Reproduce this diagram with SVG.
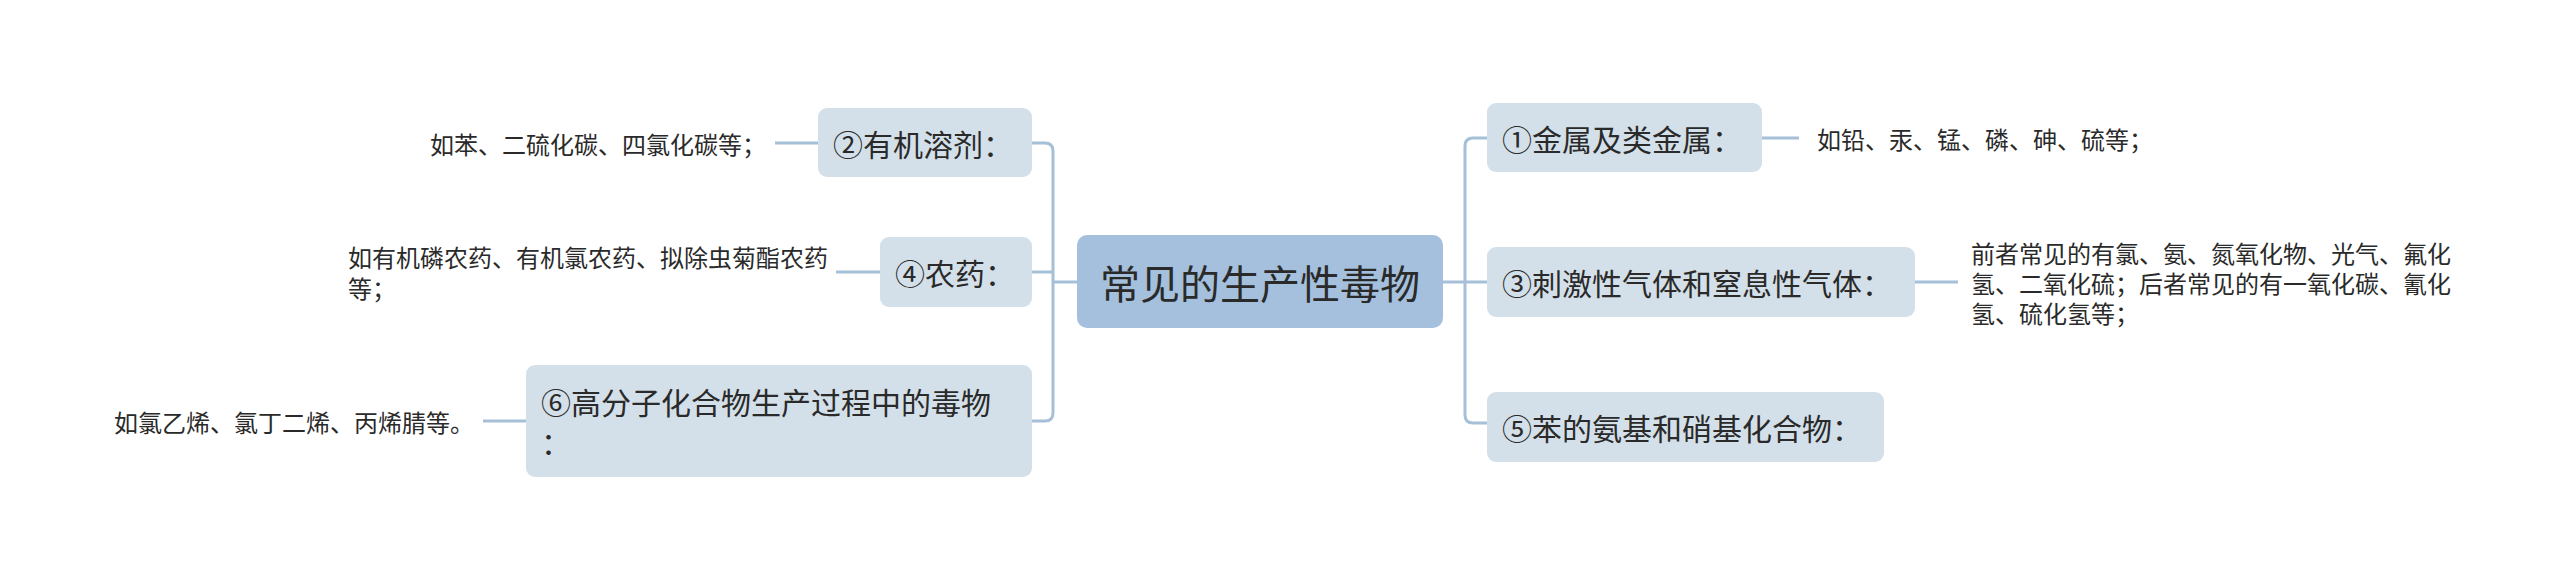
<svg xmlns="http://www.w3.org/2000/svg" width="2560" height="579" viewBox="0 0 2560 579">
<style>
text{font-family:"Noto Sans CJK SC","Noto Sans",sans-serif;fill:#2a2a2a;dominant-baseline:central}
.root{fill:#a4c0dc}
.sub{fill:#d4e0e9}
.t40{font-size:40px}
.t30{font-size:30px}
.t24{font-size:24px}
.ln{fill:none;stroke:#a6c0d8;stroke-width:3;stroke-linecap:butt}
</style>
<rect width="2560" height="579" fill="#ffffff"/>
<g id="connectors">
<path class="ln" d="M1077 282 H1053"/>
<path class="ln" d="M1032 143 H1045 Q1053 143 1053 151 V413 Q1053 421 1045 421 H1032"/>
<path class="ln" d="M1032 272 H1053"/>
<path class="ln" d="M1442 282 H1487"/>
<path class="ln" d="M1487 138 H1473 Q1465 138 1465 146 V415 Q1465 423 1473 423 H1487"/>
<path class="ln" d="M818 143 H775"/>
<path class="ln" d="M880 272 H836"/>
<path class="ln" d="M526 421 H483"/>
<path class="ln" d="M1762 138 H1799"/>
<path class="ln" d="M1915 282 H1958"/>
</g>
<g id="root">
<rect class="root" x="1077" y="235" width="366" height="93" rx="10"/>
<text class="t40" x="1260" y="282" text-anchor="middle">常见的生产性毒物</text>
</g>
<g id="n2">
<rect class="sub" x="818" y="108" width="214" height="69" rx="9"/>
<text class="t30" x="833" y="143">②有机溶剂：</text>
</g>
<g id="n2-detail">
<text class="t24" x="430" y="143">如苯、二硫化碳、四氯化碳等；</text>
</g>
<g id="n4">
<rect class="sub" x="880" y="237" width="152" height="70" rx="9"/>
<text class="t30" x="895" y="272">④农药：</text>
</g>
<g id="n4-detail">
<text class="t24" x="348" y="256">如有机磷农药、有机氯农药、拟除虫菊酯农药</text>
<text class="t24" x="348" y="287">等；</text>
</g>
<g id="n6">
<rect class="sub" x="526" y="365" width="506" height="112" rx="9"/>
<text class="t30" x="541" y="401">⑥高分子化合物生产过程中的毒物</text>
<text class="t30" x="541" y="441">：</text>
</g>
<g id="n6-detail">
<text class="t24" x="114" y="421">如氯乙烯、氯丁二烯、丙烯腈等。</text>
</g>
<g id="n1">
<rect class="sub" x="1487" y="103" width="275" height="69" rx="9"/>
<text class="t30" x="1502" y="138">①金属及类金属：</text>
</g>
<g id="n1-detail">
<text class="t24" x="1817" y="138">如铅、汞、锰、磷、砷、硫等；</text>
</g>
<g id="n3">
<rect class="sub" x="1487" y="247" width="428" height="70" rx="9"/>
<text class="t30" x="1502" y="282">③刺激性气体和窒息性气体：</text>
</g>
<g id="n3-detail">
<text class="t24" x="1971" y="252">前者常见的有氯、氨、氮氧化物、光气、氟化</text>
<text class="t24" x="1971" y="282">氢、二氧化硫；后者常见的有一氧化碳、氰化</text>
<text class="t24" x="1971" y="312">氢、硫化氢等；</text>
</g>
<g id="n5">
<rect class="sub" x="1487" y="392" width="397" height="70" rx="9"/>
<text class="t30" x="1502" y="427">⑤苯的氨基和硝基化合物：</text>
</g>
</svg>
